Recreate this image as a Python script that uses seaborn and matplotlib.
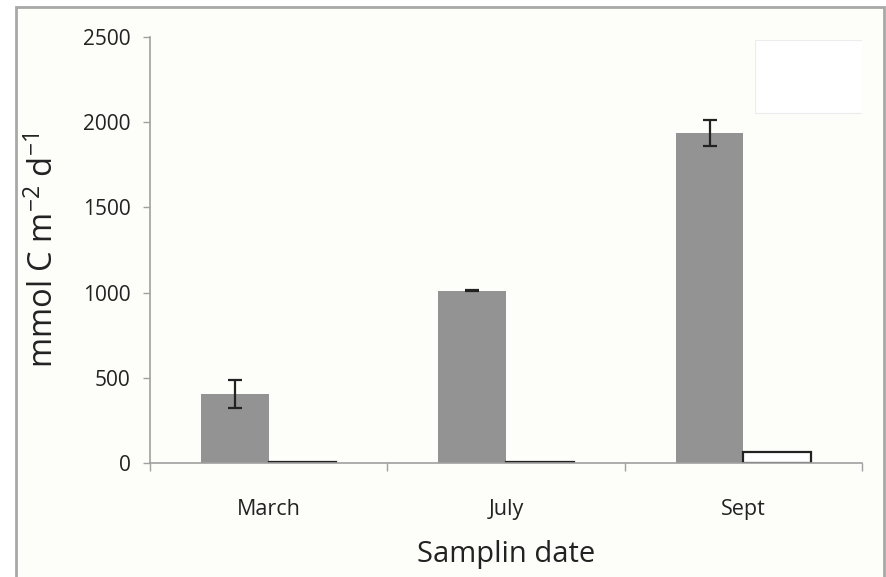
import matplotlib
matplotlib.use("Agg")
import matplotlib.pyplot as plt
from matplotlib.patches import Rectangle
import seaborn as sns
import pandas as pd
import numpy as np

# Sampling dates and carbon fluxes (mmol C m-2 d-1)
dates = ["March", "July", "Sept"]
series_names = ["Flux A", "Flux B"]
flux_a = [405, 1012, 1937]
flux_a_err = [85, 5, 78]
flux_b = [5, 5, 65]

df = pd.DataFrame({
    "date": dates * 2,
    "series": [series_names[0]] * 3 + [series_names[1]] * 3,
    "flux": flux_a + flux_b,
})

sns.set_theme(style="white")
plt.rcParams["font.family"] = ["Open Sans", "DejaVu Sans"]
plt.rcParams["mathtext.fontset"] = "custom"
plt.rcParams["mathtext.rm"] = "Open Sans"
plt.rcParams["mathtext.it"] = "Open Sans"
plt.rcParams["mathtext.default"] = "regular"

fig = plt.figure(figsize=(8.87, 5.77), dpi=100)
fig.patch.set_facecolor("white")
ax = fig.add_axes([150 / 887, 1 - 463 / 577, (862 - 150) / 887, (463 - 37) / 577])

bg = "#fdfdf9"
fig.patches.append(Rectangle((16 / 887, -0.01), (884 - 16) / 887, 1 - 7 / 577 + 0.01,
                             transform=fig.transFigure, facecolor=bg,
                             edgecolor="#a8a8a8", linewidth=2, zorder=-10))
ax.set_facecolor("none")

sns.barplot(data=df, x="date", y="flux", hue="series", order=dates,
            hue_order=series_names, palette=["#939393", "white"],
            width=0.57, errorbar=None, legend=False, ax=ax, saturation=1)

# Style the bars: grey without edge, white with black outline
for p in ax.patches:
    if p.get_facecolor()[0] > 0.9:
        p.set_edgecolor("#222222")
        p.set_linewidth(1.6)
    else:
        p.set_edgecolor("none")

# Error bars on the grey series, placed at the centres of their bars
grey_bars = [p for p in ax.patches if p.get_facecolor()[0] < 0.9]
grey_bars.sort(key=lambda p: p.get_x())
xs = [p.get_x() + p.get_width() / 2 for p in grey_bars]
ax.errorbar(xs, flux_a, yerr=flux_a_err, fmt="none", ecolor="#222222",
            elinewidth=1.6, capsize=5, capthick=1.6, zorder=5)

ax.set_xlim(-0.5, 2.5)
ax.set_ylim(0, 2500)
ax.set_yticks([0, 500, 1000, 1500, 2000, 2500])
ax.set_xticks(range(3))
ax.set_xticklabels(dates)
ax.set_xticks([-0.5, 0.5, 1.5, 2.5], minor=True)

for side in ["top", "right"]:
    ax.spines[side].set_visible(False)
for side in ["left", "bottom"]:
    ax.spines[side].set_color("#a0a0a0")
    ax.spines[side].set_linewidth(1.2)

ax.tick_params(axis="y", which="major", left=True, length=5, width=1,
               color="#a0a0a0", labelsize=15, labelcolor="#222222", pad=9)
ax.tick_params(axis="x", which="major", bottom=False, labelsize=15.5,
               labelcolor="#222222", pad=20)
ax.tick_params(axis="x", which="minor", bottom=True, length=6, width=1,
               color="#a0a0a0")

ax.set_xlabel("Samplin date", fontsize=21, color="#222222", labelpad=14)
ax.set_ylabel("mmol C m$^{-2}$ d$^{-1}$", fontsize=23.5, color="#222222", labelpad=16)

# Empty legend frame in the upper right corner
ax.add_patch(Rectangle((755 / 887, 1 - 113 / 577), 110 / 887, 73 / 577,
                       transform=fig.transFigure, facecolor="white",
                       edgecolor="#ececec", linewidth=0.8, zorder=1))

fig.savefig("out.png", dpi=100, facecolor="white")
